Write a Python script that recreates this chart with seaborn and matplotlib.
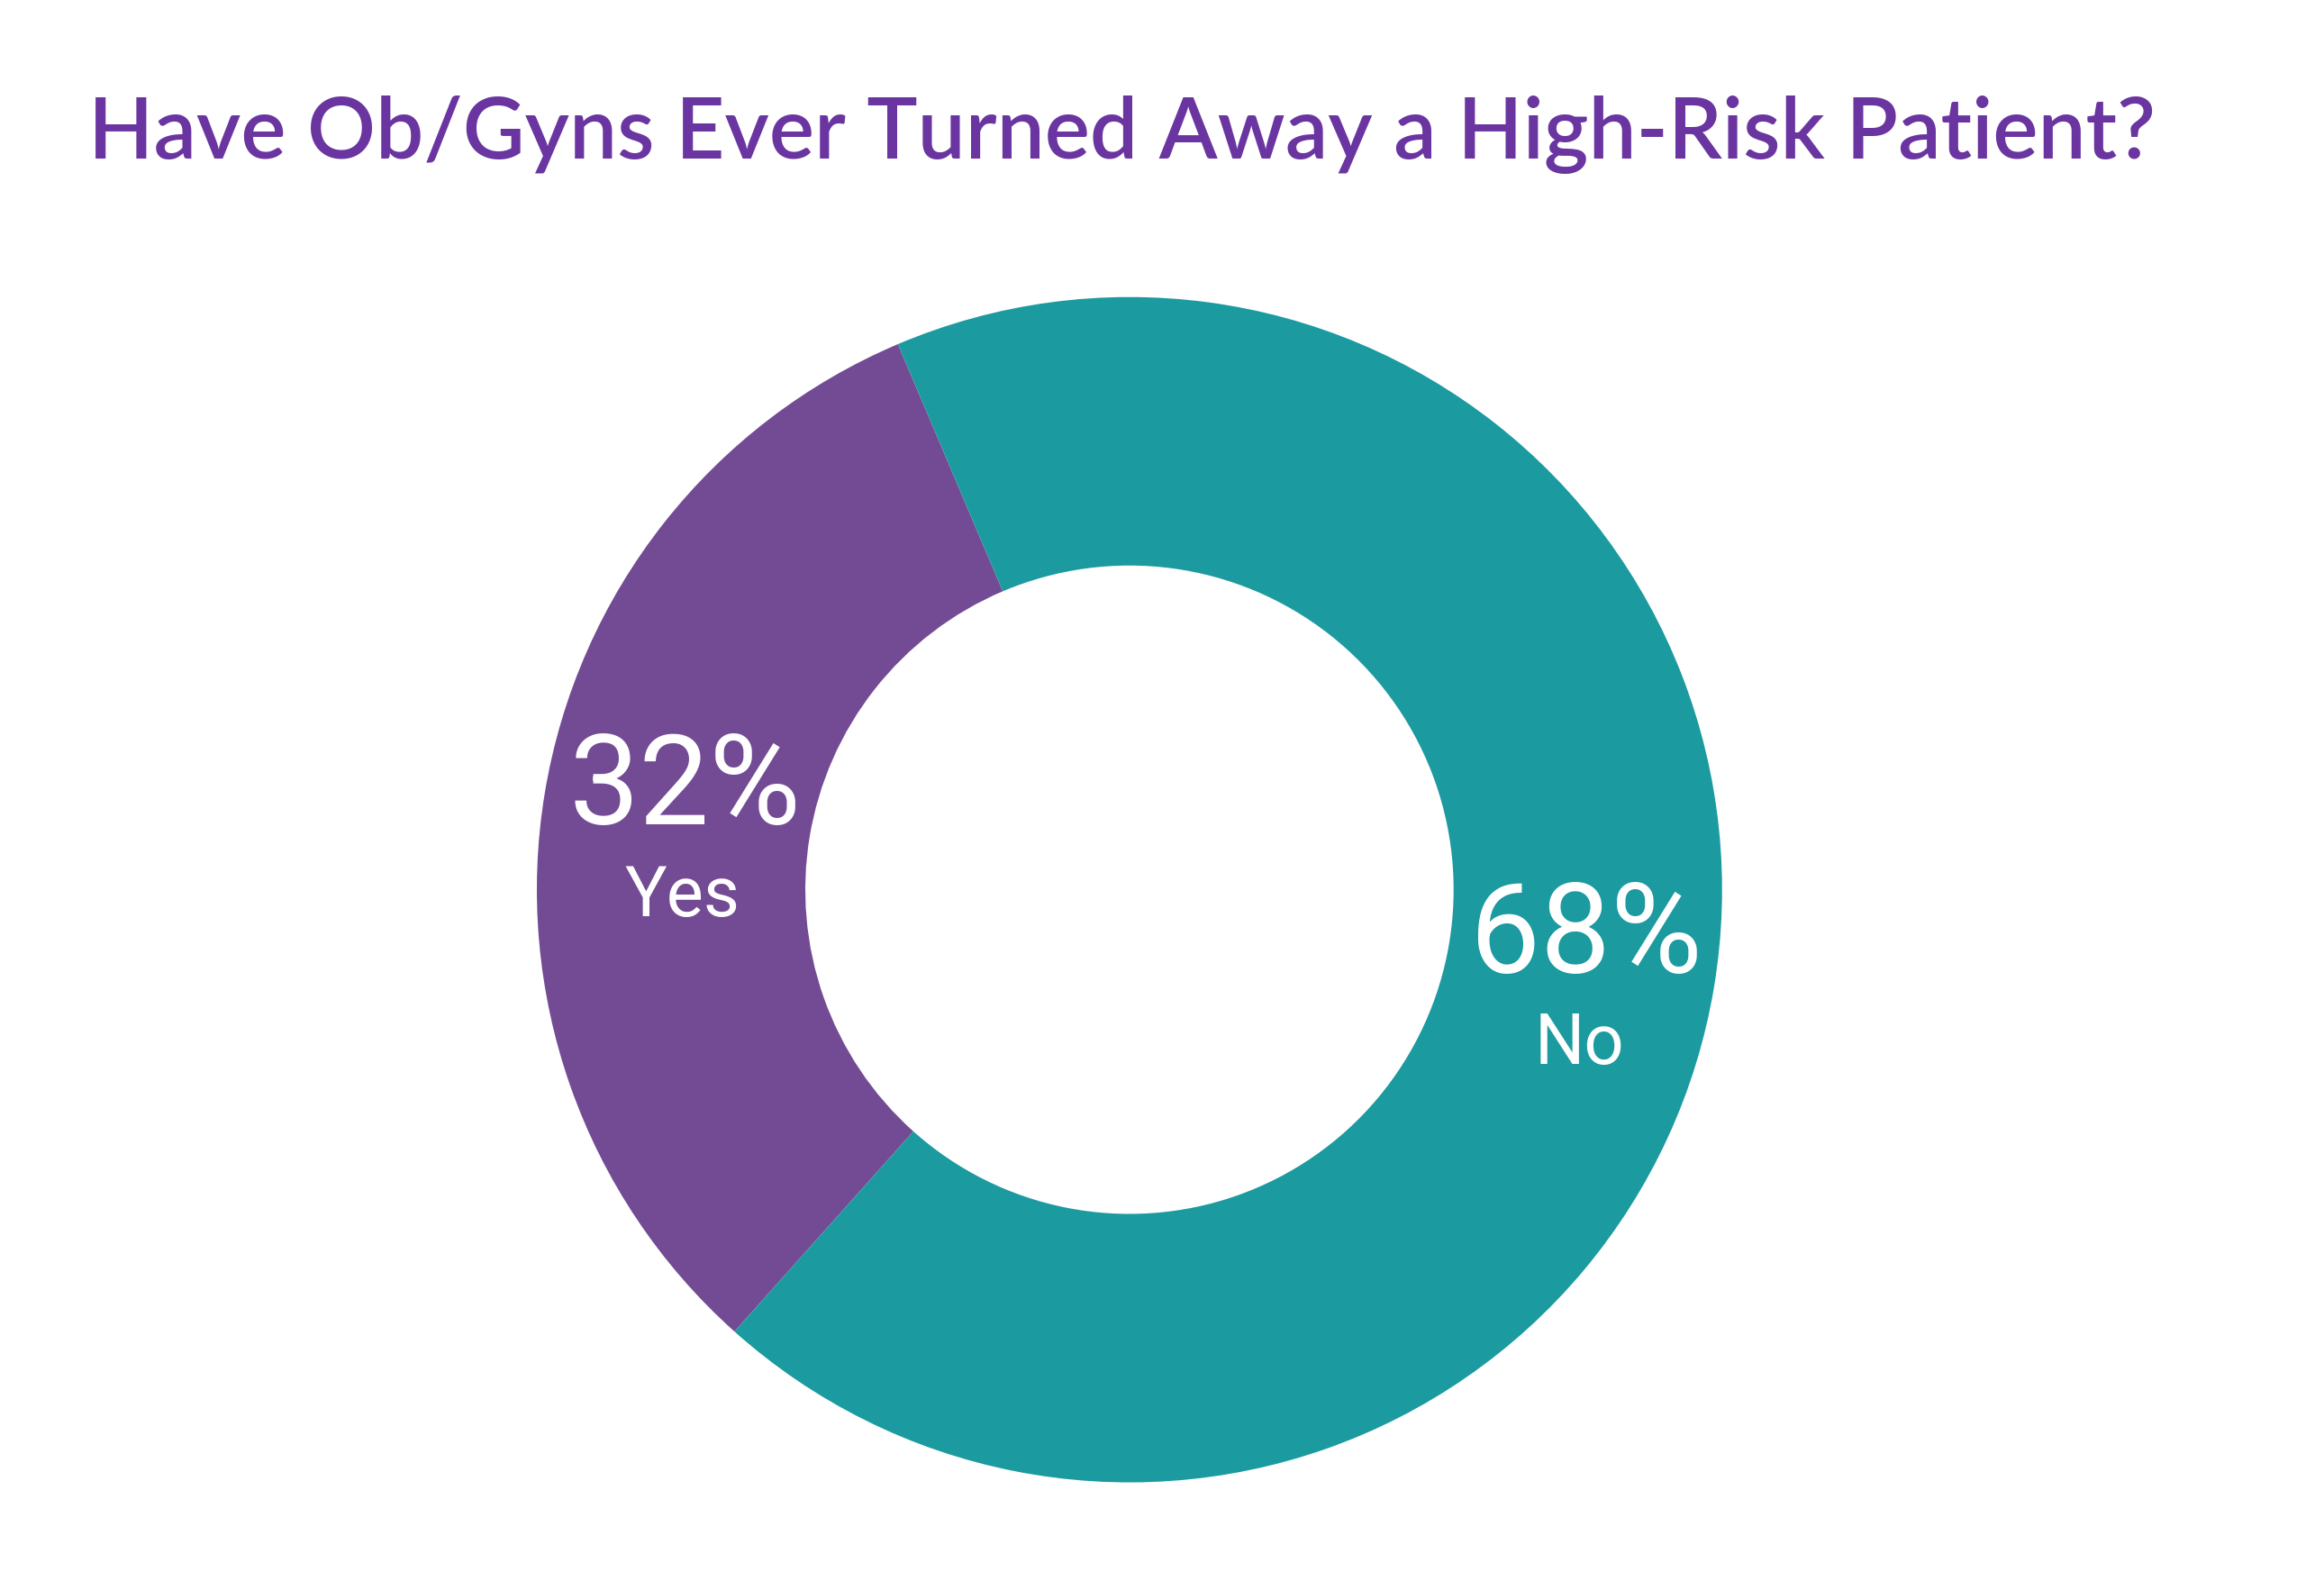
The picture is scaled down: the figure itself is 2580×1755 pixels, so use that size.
import matplotlib
matplotlib.use("Agg")
import matplotlib.pyplot as plt
import seaborn as sns

# Survey data
labels = ["Yes", "No"]
shares = [32, 68]
colors = ["#734b94", "#1b9aa0"]

sns.set_style("white")
plt.rcParams["font.family"] = ["Roboto", "DejaVu Sans"]

fig = plt.figure(figsize=(25.8, 17.56), dpi=100)
fig.text(0.038, 0.915, "Have Ob/Gyns Ever Turned Away a High-Risk Patient?",
         fontsize=68, color="#6a35a0", family=["Lato", "DejaVu Sans"],
         weight="semibold", ha="left", va="center")

ax = fig.add_axes([0.231, 0.062, 0.51, 0.75])
ax.pie(shares, colors=colors, startangle=113, counterclock=True,
       wedgeprops=dict(width=0.453, edgecolor="none"))
ax.set_aspect("equal")
ax.set_xlim(-1, 1)
ax.set_ylim(-1, 1)

# percentage + category labels inside the ring
pct_pos = [(-0.75, 0.17), (0.77, -0.08)]
name_pos = [(-0.755, -0.01), (0.76, -0.26)]
for lab, val, (px, py), (nx, ny) in zip(labels, shares, pct_pos, name_pos):
    ax.text(px, py, f"{val}%", color="white", fontsize=100, ha="center", va="center")
    ax.text(nx, ny, lab, color="white", fontsize=56, ha="center", va="center")

fig.savefig("out.png", dpi=100)
